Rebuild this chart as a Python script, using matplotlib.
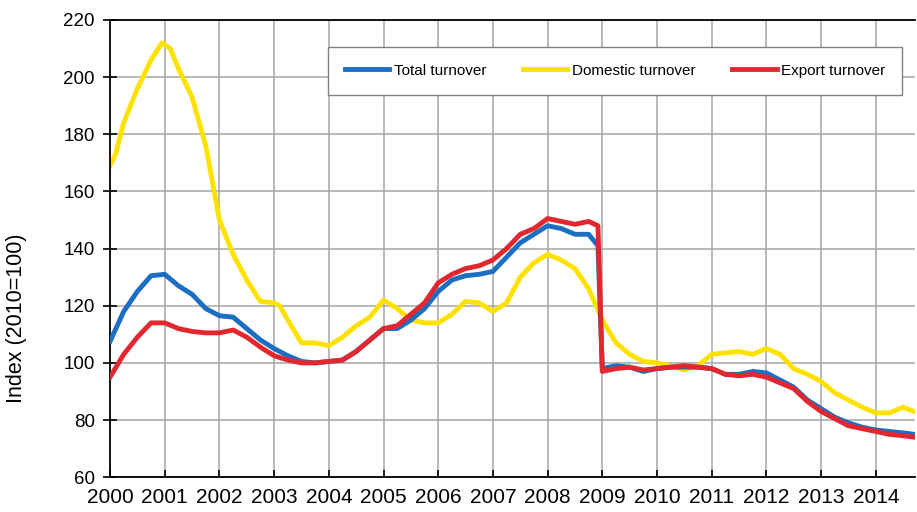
import matplotlib
matplotlib.use("Agg")
import matplotlib.pyplot as plt

plt.rcParams['font.family'] = ['Liberation Sans', 'DejaVu Sans']

# quarterly points, plus one just before the 2009 break
years = [2000.0, 2000.25, 2000.5, 2000.75, 2001.0, 2001.25, 2001.5, 2001.75,
         2002.0, 2002.25, 2002.5, 2002.75, 2003.0, 2003.25, 2003.5, 2003.75,
         2004.0, 2004.25, 2004.5, 2004.75, 2005.0, 2005.25, 2005.5, 2005.75,
         2006.0, 2006.25, 2006.5, 2006.75, 2007.0, 2007.25, 2007.5, 2007.75,
         2008.0, 2008.25, 2008.5, 2008.75, 2008.92, 2009.0, 2009.25, 2009.5,
         2009.75, 2010.0, 2010.25, 2010.5, 2010.75, 2011.0, 2011.25, 2011.5,
         2011.75, 2012.0, 2012.25, 2012.5, 2012.75, 2013.0, 2013.25, 2013.5,
         2013.75, 2014.0, 2014.25, 2014.5, 2014.7]

total = [107.5, 118, 125, 130.5, 131, 127, 124, 119,
         116.5, 116, 112, 108, 105, 102.5, 100.5, 100,
         100.5, 101, 104, 108, 112, 112, 115, 119,
         125, 129, 130.5, 131, 132, 137, 142, 145,
         148, 147, 145, 145, 141, 98, 99, 98.5,
         97, 98, 98.5, 98.5, 98.5, 98, 96, 96,
         97, 96.5, 94, 91.5, 87, 84, 81, 79,
         77.5, 76.5, 76, 75.5, 75]

export = [95, 103, 109, 114, 114, 112, 111, 110.5,
          110.5, 111.5, 109, 105.5, 102.5, 101, 100, 100,
          100.5, 101, 104, 108, 112, 113, 117, 121,
          128, 131, 133, 134, 136, 140, 145, 147,
          150.5, 149.5, 148.5, 149.5, 148, 97, 98, 98.5,
          97.5, 98, 98.5, 99, 98.5, 98, 96, 95.5,
          96, 95, 93, 91, 86.5, 83, 80.5, 78,
          77, 76, 75, 74.5, 74]

dom_years = [2000.0, 2000.1, 2000.25, 2000.5, 2000.75, 2000.95, 2001.1, 2001.25,
             2001.5, 2001.75, 2002.0, 2002.25, 2002.5, 2002.75, 2003.0, 2003.1,
             2003.25, 2003.5, 2003.75, 2004.0, 2004.25, 2004.5, 2004.75, 2005.0,
             2005.25, 2005.5, 2005.75, 2006.0, 2006.25, 2006.5, 2006.75, 2007.0,
             2007.25, 2007.5, 2007.75, 2008.0, 2008.25, 2008.5, 2008.75, 2009.0,
             2009.25, 2009.5, 2009.75, 2010.0, 2010.25, 2010.5, 2010.75, 2011.0,
             2011.25, 2011.5, 2011.75, 2012.0, 2012.25, 2012.5, 2012.75, 2013.0,
             2013.25, 2013.5, 2013.75, 2014.0, 2014.25, 2014.5, 2014.7]

domestic = [169, 173, 184, 196, 206, 212, 210, 203,
            193, 176, 150, 138, 129, 121.5, 121, 120,
            115, 107, 107, 106, 109, 113, 116, 122,
            119, 115, 114, 114, 117, 121.5, 121, 118,
            121, 130, 135, 138, 136, 133, 126, 115,
            107, 103, 100.5, 100, 99, 97.5, 99, 103,
            103.5, 104, 103, 105, 103, 98, 96, 93.5,
            89.5, 87, 84.5, 82.5, 82.5, 84.5, 83]

year_ticks = list(range(2000, 2015))
y_ticks = [60, 80, 100, 120, 140, 160, 180, 200, 220]

fig = plt.figure(figsize=(9.17, 5.12), dpi=100)
ax = fig.add_axes([0.12, 0.068, 0.878, 0.893])

lw = 3.5
ax.plot(years, total, color='#1b6ec2', linewidth=lw, label='Total turnover',
        zorder=3, solid_joinstyle='round')
ax.plot(dom_years, domestic, color='#ffe100', linewidth=lw, label='Domestic turnover',
        zorder=2, solid_joinstyle='round')
ax.plot(years, export, color='#e2272f', linewidth=lw, label='Export turnover',
        zorder=4, solid_joinstyle='round')

ax.set_xlim(2000, 2014.72)
ax.set_ylim(60, 220)
ax.set_xticks(year_ticks)
ax.set_xticklabels([str(y) for y in year_ticks])
ax.set_yticks(y_ticks)
ax.grid(True, color='#a6a6a6', linewidth=1.1)
ax.set_axisbelow(True)

ax.tick_params(axis='x', direction='in', length=5, width=1.2, labelsize=15, pad=8)
ax.tick_params(axis='y', direction='inout', length=10, width=1.2, labelsize=13.5, pad=6)
for s in ['left', 'bottom', 'top']:
    ax.spines[s].set_color('black')
    ax.spines[s].set_linewidth(1.3)
ax.spines['right'].set_visible(False)

ax.set_ylabel('Index (2010=100)', fontsize=15.5)
ax.yaxis.set_label_coords(-0.103, 0.348)

leg = ax.legend(loc='upper right', bbox_to_anchor=(0.984, 0.941), ncol=3,
                fontsize=11, frameon=True, fancybox=False, framealpha=1,
                edgecolor='#808080', handlelength=2.9, handletextpad=0.3,
                columnspacing=2.4, borderpad=1.1, borderaxespad=0)
leg.get_frame().set_linewidth(1.0)

fig.savefig('out.png', dpi=100)
